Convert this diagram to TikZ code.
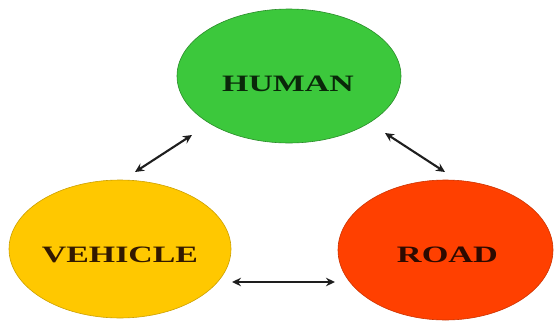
\documentclass[tikz,border=0pt]{standalone}
\usepackage{fontspec}
\setmainfont{Liberation Serif}
\usepackage{graphicx}
\usetikzlibrary{shapes.geometric,arrows.meta}
\definecolor{hgreen}{RGB}{60,200,60}
\definecolor{vyellow}{RGB}{255,200,0}
\definecolor{rred}{RGB}{255,64,0}
\definecolor{htext}{RGB}{10,40,10}
\definecolor{vtext}{RGB}{50,25,0}
\definecolor{rtext}{RGB}{45,10,0}
\tikzset{
  blob/.style={ellipse, inner sep=0pt, line width=0.6pt},
  lbl/.style={inner sep=0pt, font=\fontsize{23.5}{24}\selectfont\bfseries},
  link/.style={line width=2.1pt, draw={rgb,255:red,30;green,30;blue,30}, {Stealth[length=9pt,width=8.5pt]}-{Stealth[length=9pt,width=8.5pt]}}
}
\begin{document}
\begin{tikzpicture}[x=1pt,y=-1pt]
\useasboundingbox (0,0) rectangle (555,327);
\node[blob, fill=hgreen, draw=hgreen!70!black, minimum width=224pt, minimum height=134pt] (human) at (289,76) {};
\node[blob, fill=vyellow, draw=vyellow!80!black, minimum width=222pt, minimum height=138pt] (vehicle) at (120,249) {};
\node[blob, fill=rred, draw=rred!80!black, minimum width=215pt, minimum height=140pt] (road) at (445.5,250) {};
\node[lbl, text=htext] (humant) at (288,84) {\scalebox{1.44}[1]{HUMAN}};
\node[lbl, text=vtext] (vehiclet) at (120,254.5) {\scalebox{1.44}[1]{VEHICLE}};
\node[lbl, text=rtext] (roadt) at (447.5,254.5) {\scalebox{1.46}[1]{ROAD}};
\coordinate (a1) at (135,172);
\coordinate (a2) at (192,135);
\coordinate (b1) at (385,133);
\coordinate (b2) at (445,172);
\coordinate (c1) at (232,282);
\coordinate (c2) at (335,282);
\draw[link] (a1) -- (a2);
\draw[link] (b1) -- (b2);
\draw[link] (c1) -- (c2);
\end{tikzpicture}
\end{document}
